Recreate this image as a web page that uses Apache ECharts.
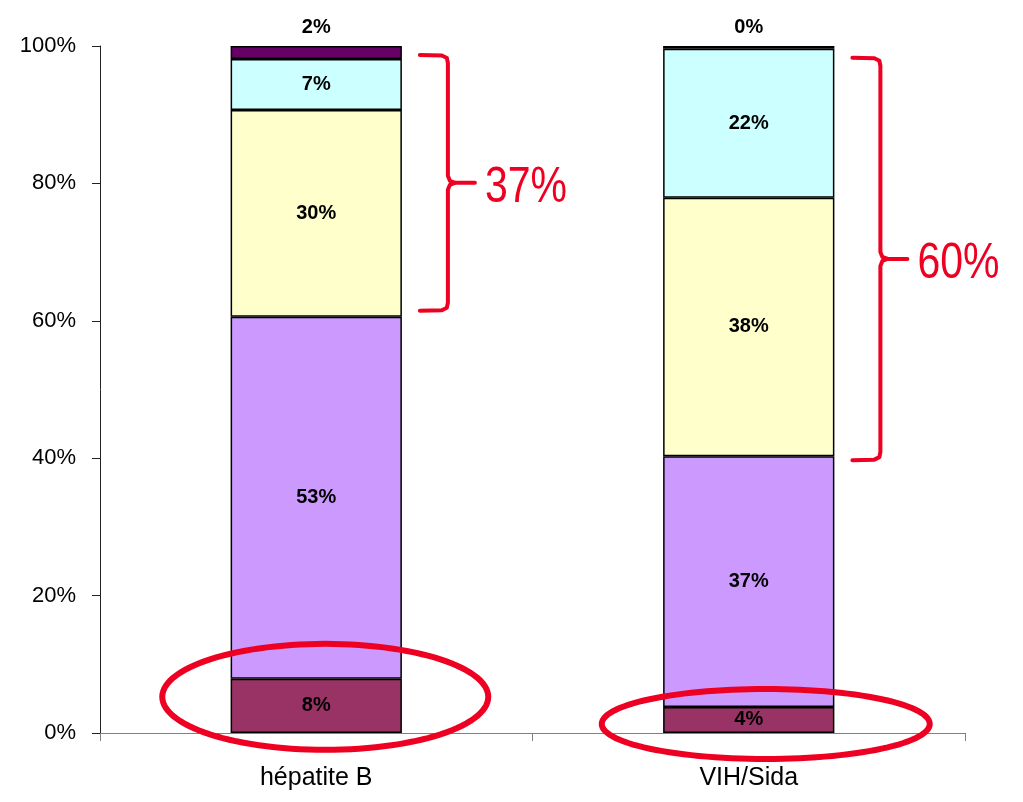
<!DOCTYPE html>
<html>
<head>
<meta charset="utf-8">
<script src="https://cdn.jsdelivr.net/npm/echarts@6/dist/echarts.min.js"></script>
<style>
  html, body { margin: 0; padding: 0; background: #fff; }
  #chart { width: 1023px; height: 802px; }
</style>
</head>
<body>
<div id="chart"></div>
<script>
const categories = ['hépatite B', 'VIH/Sida']
// stacked shares in %, bottom to top
const seg1 = [7.9, 3.8]
const seg2 = [52.7, 36.5]
const seg3 = [30.1, 37.6]
const seg4 = [7.4, 21.7]
const seg5 = [1.9, 0.4]
const segColors = ['#993366', '#CC99FF', '#FFFFCC', '#CCFFFF', '#660066']
const yTicks = [0, 20, 40, 60, 80, 100]

const font = '"Liberation Sans", Arial, sans-serif'
const red = '#EE0022'

const chart = echarts.init(document.getElementById('chart'))

const makeSeries = (name, data, color, top) => ({
  name: name,
  type: 'bar',
  stack: 'total',
  data: data,
  barWidth: '39.6%',
  itemStyle: { color: color, borderColor: '#000', borderWidth: 1.5 },
  label: {
    show: true,
    position: top ? 'top' : 'inside',
    distance: 9,
    color: '#000',
    fontFamily: font,
    fontWeight: 'bold',
    fontSize: 20,
    formatter: (p) => Math.round(p.value) + '%'
  },
  emphasis: { disabled: true }
})

chart.setOption({
  animation: false,
  grid: { left: 100, right: 58, top: 46, bottom: 69 },
  xAxis: {
    type: 'category',
    data: categories,
    axisLine: { lineStyle: { color: '#808080', width: 1 } },
    axisTick: { show: true, length: 8, lineStyle: { color: '#808080' } },
    axisLabel: { color: '#000', fontFamily: font, fontSize: 25, margin: 33 }
  },
  yAxis: {
    type: 'value',
    min: yTicks[0],
    max: yTicks[yTicks.length - 1],
    interval: 20,
    splitLine: { show: false },
    axisLine: { show: true, lineStyle: { color: '#222', width: 1 } },
    axisTick: { show: true, length: 8, lineStyle: { color: '#222' } },
    axisLabel: { color: '#000', fontFamily: font, fontSize: 22, margin: 24, formatter: '{value}%' }
  },
  series: [
    makeSeries('s1', seg1, segColors[0]),
    makeSeries('s2', seg2, segColors[1]),
    makeSeries('s3', seg3, segColors[2]),
    makeSeries('s4', seg4, segColors[3]),
    makeSeries('s5', seg5, segColors[4], true)
  ]
})

// red annotations, placed from the data through the axes
const toPx = (i, v) => chart.convertToPixel({ xAxisIndex: 0, yAxisIndex: 0 }, [i, v])
const band = toPx(1, 0)[0] - toPx(0, 0)[0]
const barHalf = band * 0.396 / 2

const graphics = []
categories.forEach((c, i) => {
  const low = seg1[i] + seg2[i]
  const high = low + seg3[i] + seg4[i]
  const cx = toPx(i, 0)[0]
  const x0 = cx + barHalf + 18
  const x1 = x0 + 28
  const x2 = x1 + 27
  const yTop = toPx(i, high)[1] + (i === 0 ? -4 : 9)
  const yBot = toPx(i, low)[1] + (i === 0 ? -6 : 4)
  const yMid = (yTop + yBot) / 2
  const bracketStyle = { fill: null, stroke: red, lineWidth: 4, lineCap: 'round', lineJoin: 'round' }
  graphics.push({
    type: 'polyline',
    z: 100,
    shape: { points: [[x0, yTop], [x1 - 6, yTop + 0.5], [x1 - 1, yTop + 3], [x1, yTop + 8], [x1, yMid - 7], [x1 + 2, yMid - 2], [x1 + 7, yMid], [x2, yMid]] },
    style: bracketStyle,
    silent: true
  })
  graphics.push({
    type: 'polyline',
    z: 100,
    shape: { points: [[x1 + 7, yMid], [x1 + 2, yMid + 2], [x1, yMid + 7], [x1, yBot - 8], [x1 - 1, yBot - 3], [x1 - 6, yBot - 0.5], [x0, yBot]] },
    style: bracketStyle,
    silent: true
  })
  graphics.push({
    type: 'text',
    z: 100,
    x: x2 + 10,
    y: yMid + 5,
    scaleX: 0.82,
    style: {
      text: (Math.round(seg3[i]) + Math.round(seg4[i])) + '%',
      fill: red,
      font: '50px ' + font,
      verticalAlign: 'middle',
      align: 'left'
    },
    silent: true
  })
  const segMid = toPx(i, seg1[i] / 2)[1]
  const ell = i === 0 ? { dx: 9, dy: -9, rx: 163, ry: 53 } : { dx: 17, dy: 4, rx: 164, ry: 35 }
  const pts = []
  for (let k = 0; k < 120; k++) {
    const a = (k / 120) * Math.PI * 2
    pts.push([cx + ell.dx + ell.rx * Math.cos(a), segMid + ell.dy + ell.ry * Math.sin(a)])
  }
  graphics.push({
    type: 'polygon',
    z: 100,
    shape: { points: pts },
    style: { fill: null, stroke: red, lineWidth: 6 },
    silent: true
  })
})
chart.setOption({ graphic: graphics })
</script>
</body>
</html>
